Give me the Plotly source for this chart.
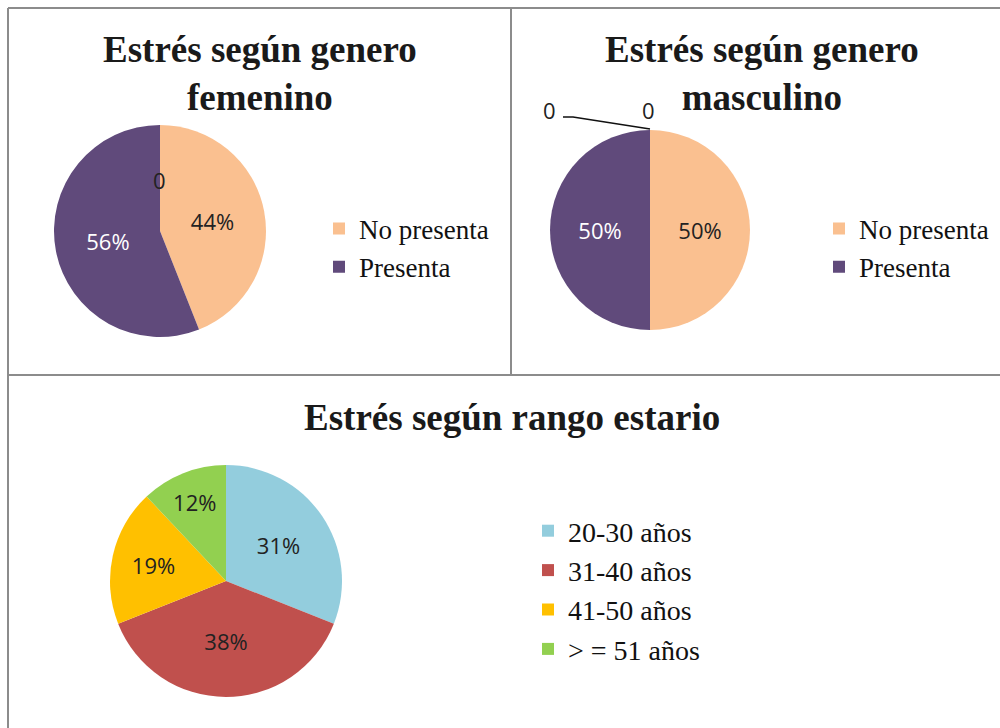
import plotly.graph_objects as go

# ---- data ----
gender_labels = ["No presenta", "Presenta"]
female_values = [44, 56]
male_values = [50, 50]
age_labels = ["20-30 años", "31-40 años", "41-50 años", "> = 51 años"]
age_values = [31, 38, 19, 12]
zero_label = "0"

title_f = "Estrés según genero<br>femenino"
title_m = "Estrés según genero<br>masculino"
title_a = "Estrés según rango estario"

gender_colors = ["#FAC090", "#604A7B"]
age_colors = ["#93CDDD", "#C0504D", "#FFC000", "#92D050"]

W, H = 1000, 728


def px(x):
    return x / W


def py(y):
    return 1 - y / H


pie_font = "Open Sans, Liberation Sans, sans-serif"
serif = "Liberation Serif, Times New Roman, serif"
PCT = 22

# male legend needs its own entries (pie legends with equal labels are merged)
male_labels = [lab + "\u200b" for lab in gender_labels]

fig = go.Figure()

fig.add_trace(go.Pie(
    labels=gender_labels, values=female_values, sort=False, direction="clockwise", rotation=0,
    marker=dict(colors=gender_colors, line=dict(width=0)),
    texttemplate="%{percent:.0%}", textposition="inside", insidetextorientation="horizontal",
    textfont=dict(family=pie_font, size=PCT, color=["#222222", "#ffffff"]),
    domain=dict(x=[px(54), px(266)], y=[py(337), py(125)]),
    legend="legend", hoverinfo="label+percent",
))
fig.add_trace(go.Pie(
    labels=male_labels, values=male_values, sort=False, direction="clockwise", rotation=0,
    marker=dict(colors=gender_colors, line=dict(width=0)),
    texttemplate="%{percent:.0%}", textposition="inside", insidetextorientation="horizontal",
    textfont=dict(family=pie_font, size=PCT, color=["#222222", "#ffffff"]),
    domain=dict(x=[px(550), px(750)], y=[py(330), py(130)]),
    legend="legend2", hoverinfo="label+percent",
))
fig.add_trace(go.Pie(
    labels=age_labels, values=age_values, sort=False, direction="clockwise", rotation=0,
    marker=dict(colors=age_colors, line=dict(width=0)),
    texttemplate="%{percent:.0%}", textposition="inside", insidetextorientation="horizontal",
    textfont=dict(family=pie_font, size=PCT, color="#222222"),
    domain=dict(x=[px(110), px(342)], y=[py(697), py(465)]),
    legend="legend3", hoverinfo="label+percent",
))

leg_font = dict(family=serif, size=27, color="#111111")
title_font = dict(family=serif, size=37, color="#1a1a1a")
zero_font = dict(family=pie_font, size=PCT, color="#222222")

annotations = [
    dict(text="<b>" + title_f + "</b>", x=px(260), y=py(74), xanchor="center", yanchor="middle",
         font=title_font, showarrow=False),
    dict(text="<b>" + title_m + "</b>", x=px(762), y=py(74), xanchor="center", yanchor="middle",
         font=title_font, showarrow=False),
    dict(text="<b>" + title_a + "</b>", x=px(512), y=py(418), xanchor="center", yanchor="middle",
         font=title_font, showarrow=False),
    dict(text=zero_label, x=px(159), y=py(180), xanchor="center", yanchor="middle",
         showarrow=False, font=zero_font),
    dict(text=zero_label, x=px(549), y=py(110), xanchor="center", yanchor="middle",
         showarrow=False, font=zero_font),
    dict(text=zero_label, x=px(648), y=py(110), xanchor="center", yanchor="middle",
         showarrow=False, font=zero_font),
]

border = dict(color="#8c8c8c", width=2)
shapes = [
    dict(type="line", xref="paper", yref="paper", x0=px(8), x1=1, y0=py(8), y1=py(8), line=border),
    dict(type="line", xref="paper", yref="paper", x0=px(8), x1=px(8), y0=py(8), y1=0, line=border),
    dict(type="line", xref="paper", yref="paper", x0=px(511), x1=px(511), y0=py(8), y1=py(375), line=border),
    dict(type="line", xref="paper", yref="paper", x0=px(8), x1=1, y0=py(375), y1=py(375), line=border),
    dict(type="path", xref="paper", yref="paper",
         path=f"M {px(563)},{py(117)} L {px(573)},{py(117)} L {px(650)},{py(129)}",
         line=dict(color="#111111", width=1.5)),
]

fig.update_layout(
    width=W, height=H, margin=dict(l=0, r=0, t=0, b=0),
    paper_bgcolor="white", plot_bgcolor="white",
    showlegend=True,
    legend=dict(x=px(319), y=py(248), xanchor="left", yanchor="middle", font=leg_font,
                bgcolor="rgba(0,0,0,0)"),
    legend2=dict(x=px(819), y=py(248), xanchor="left", yanchor="middle", font=leg_font,
                 bgcolor="rgba(0,0,0,0)"),
    legend3=dict(x=px(528), y=py(590), xanchor="left", yanchor="middle",
                 font=dict(family=serif, size=28, color="#111111"),
                 bgcolor="rgba(0,0,0,0)"),
    annotations=annotations, shapes=shapes,
)

fig.write_html("out.html")
